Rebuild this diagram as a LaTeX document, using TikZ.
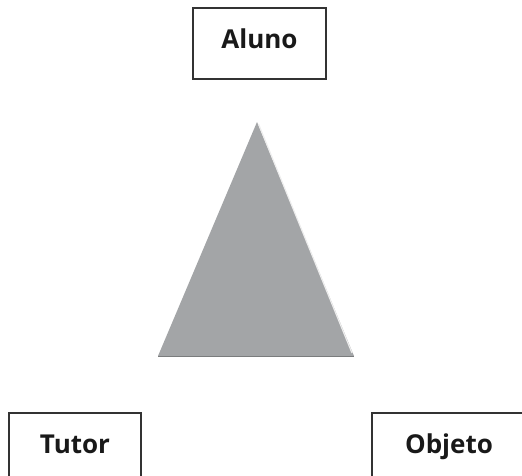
\documentclass[tikz,border=0pt]{standalone}
\usepackage{fontspec}
\setmainfont{Open Sans}
\begin{document}
\begin{tikzpicture}[x=1pt,y=-1pt,
  box/.style={draw=black!80, line width=2.2pt, fill=white, inner sep=0pt,
    minimum height=71pt, text height=20pt, text depth=11pt,
    font=\fontsize{26}{30}\selectfont\bfseries, text=black!90}]
\useasboundingbox (0,0) rectangle (522,475);
\clip (0,0) rectangle (522,475);
\definecolor{trigray}{HTML}{A3A5A7}
\fill[trigray] (257,122) -- (158,356) -- (354,356) -- cycle;
\draw[white!80!trigray, line width=1.2pt] (258.5,124) -- (352,353);
\draw[black!25!trigray, line width=0.6pt] (158,356.5) -- (354,356.5);
\node[box, minimum width=133pt] (aluno) at (259.5,43.5) {Aluno};
\node[box, minimum width=132pt] (tutor) at (75,448.5) {Tutor};
\node[box, minimum width=154pt] (objeto) at (449,448.5) {Objeto};
\end{tikzpicture}
\end{document}
